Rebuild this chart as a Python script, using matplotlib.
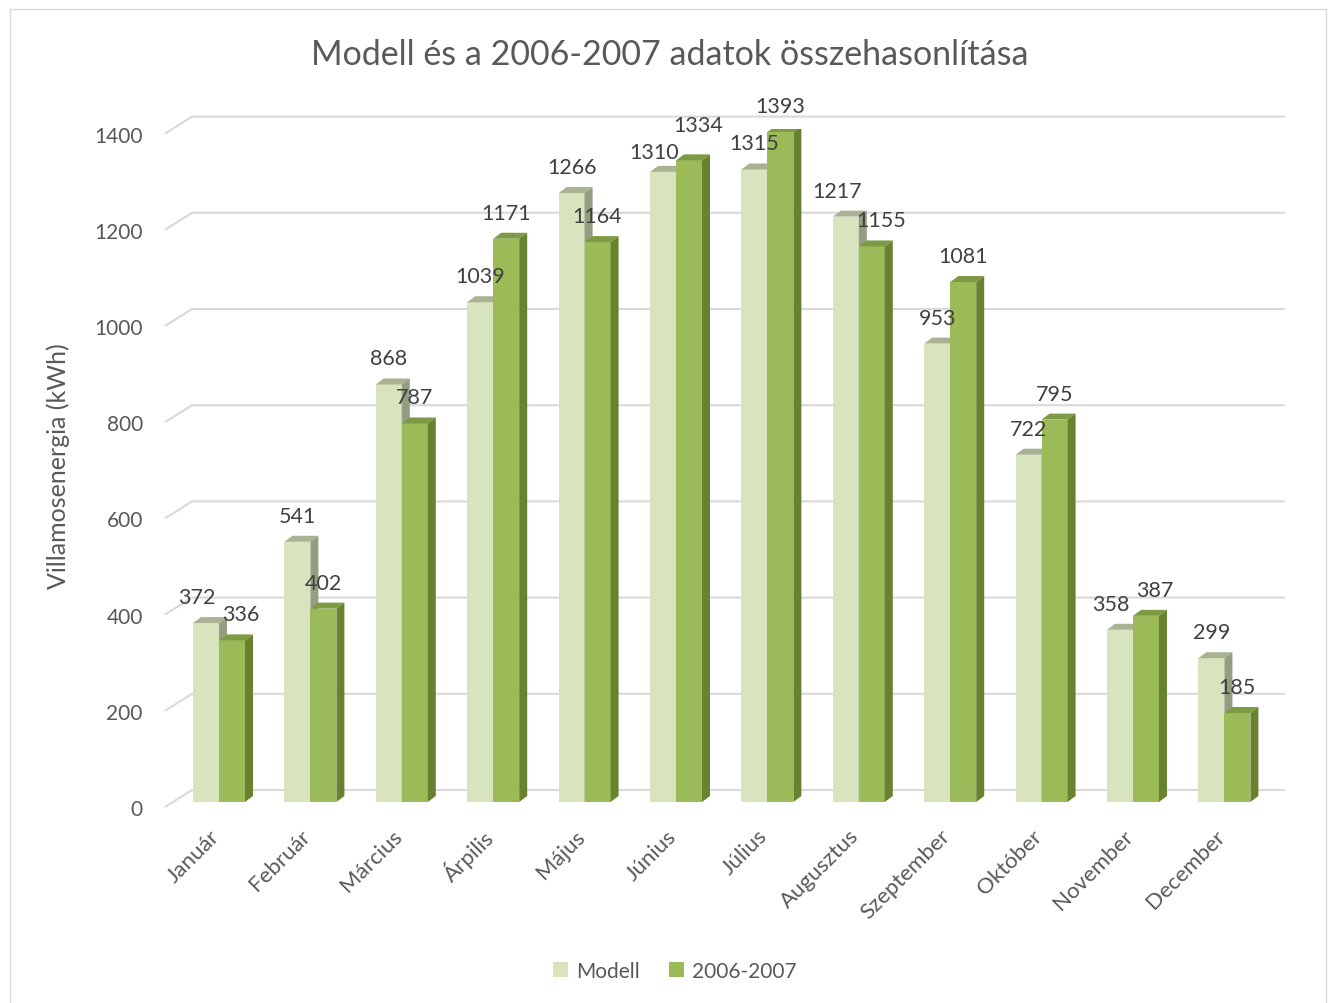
import numpy as np
import matplotlib
matplotlib.use("Agg")
import matplotlib.pyplot as plt
from matplotlib.patches import Polygon, Patch, Rectangle
from matplotlib.transforms import ScaledTranslation

# Data
months = ["Január", "Február", "Március", "Árpilis", "Május", "Június",
          "Július", "Augusztus", "Szeptember", "Október", "November", "December"]
modell = [372, 541, 868, 1039, 1266, 1310, 1315, 1217, 953, 722, 358, 299]
meres = [336, 402, 787, 1171, 1164, 1334, 1393, 1155, 1081, 795, 387, 185]
yticks = [0, 200, 400, 600, 800, 1000, 1200, 1400]

# Style
plt.rcParams['font.family'] = ['Lato', 'DejaVu Sans']
TXT = "#595959"
GRID = "#D9D9D9"
faces = {
    "Modell": ("#D7E4BD", "#A9B394", "#939D7F"),
    "2006-2007": ("#9BBB59", "#7D9A44", "#68822F"),
}

# Layout (pixels)
W, H = 1336, 1004
LEFT, RIGHT, BOTTOM, TOP = 165, 1285, 803, 129.6
FIRST = 219          # center of first group
STEP = 91.4          # group spacing
BAR = 26             # bar width
DEPTH_X, DEPTH_Y = 8, 6
PX_UNIT = (BOTTOM - TOP) / 1400
PT = 0.72            # points per pixel at 100 dpi

fig = plt.figure(figsize=(W / 100, H / 100), dpi=100)
ax = fig.add_axes([LEFT / W, (H - BOTTOM) / H, (RIGHT - LEFT) / W, (BOTTOM - TOP) / H])
ax.set_xlim((LEFT - FIRST) / STEP, (RIGHT - FIRST) / STEP)
ax.set_ylim(0, 1400)
for s in ax.spines.values():
    s.set_visible(False)


def px_x(p):
    return p / STEP


def px_y(p):
    return p / PX_UNIT


x0, x1 = ax.get_xlim()
# back wall gridlines with floor diagonal
for v in yticks:
    yf = v - px_y(5)
    yb = v + px_y(12)
    ax.plot([x0, x0 + px_x(27), x1], [yf, yb, yb], color=GRID, lw=1.5,
            zorder=0, clip_on=False, solid_capstyle='butt')

# bars
bw = px_x(BAR)
dx, dy = px_x(DEPTH_X), px_y(DEPTH_Y)
x = np.arange(len(months))
for k, (name, vals) in enumerate([("Modell", modell), ("2006-2007", meres)]):
    front, top, side = faces[name]
    for i, v in enumerate(vals):
        left = x[i] - bw if k == 0 else x[i]
        z = 2 + k
        ax.add_patch(Rectangle((left, 0), bw, v, facecolor=front, edgecolor='none', zorder=z))
        ax.add_patch(Polygon([(left, v), (left + bw, v), (left + bw + dx, v + dy), (left + dx, v + dy)],
                             closed=True, facecolor=top, edgecolor='none', zorder=z))
        ax.add_patch(Polygon([(left + bw, 0), (left + bw + dx, dy), (left + bw + dx, v + dy), (left + bw, v)],
                             closed=True, facecolor=side, edgecolor='none', zorder=z))

        # nudge labels of similar-height pairs apart
        diff = abs(modell[i] - meres[i])
        sx = 0
        sy = 0
        if diff < 65:
            sx = -9 if k == 0 else 9
        if diff < 26:
            lower = 0 if modell[i] < meres[i] else 1
            sy = -6 if k == lower else 9
        ax.annotate(str(v), (left + bw / 2, v), xytext=(sx * PT, (26 + sy) * PT), textcoords='offset points',
                    ha='center', va='center', fontsize=15.5, color="#404040", zorder=5)

# axes ticks
ax.tick_params(length=0)
ax.set_yticks(yticks)
ax.set_yticklabels([str(t) for t in yticks], fontsize=15, color=TXT)
ax.tick_params(axis='y', pad=16)
for lab in ax.get_yticklabels():
    lab.set_transform(lab.get_transform() + ScaledTranslation(0, -5 / 100, fig.dpi_scale_trans))
ax.set_xticks(x)
ax.set_xticklabels(months, fontsize=16, color=TXT, rotation=45, ha='right', va='center',
                   rotation_mode='anchor')
ax.tick_params(axis='x', pad=22)
for lab in ax.get_xticklabels():
    lab.set_transform(lab.get_transform() + ScaledTranslation(-3 / 100, 0, fig.dpi_scale_trans))

ax.set_ylabel("Villamosenergia (kWh)", fontsize=18, color=TXT)
ax.yaxis.set_label_coords((70 - LEFT) / (RIGHT - LEFT), 0.5)

fig.text(670 / W, 1 - 55 / H, "Modell és a 2006-2007 adatok összehasonlítása",
         ha='center', va='center', fontsize=24.5, color=TXT)

handles = [Patch(facecolor=faces[n][0], edgecolor='none', label=n) for n in faces]
fig.legend(handles=handles, loc='center', bbox_to_anchor=(675 / W, 1 - 972 / H), ncol=2,
           frameon=False, fontsize=15, labelcolor=TXT, handlelength=0.7, handleheight=0.7,
           handletextpad=0.4, columnspacing=1.4)

fig.add_artist(Rectangle((10 / W, -0.01), (W - 20) / W, 1 - 10 / H + 0.01, transform=fig.transFigure,
                         fill=False, edgecolor=GRID, lw=1))

fig.savefig("out.png", dpi=100)
